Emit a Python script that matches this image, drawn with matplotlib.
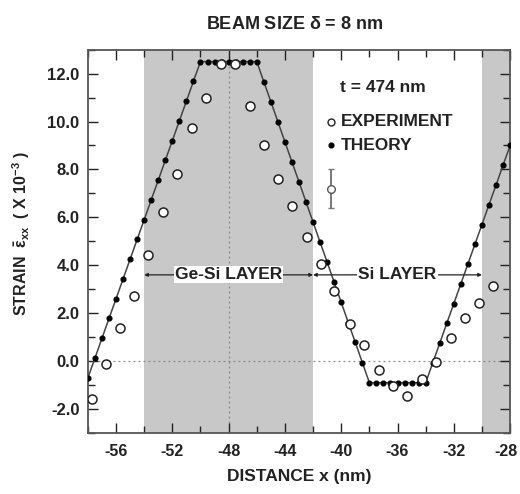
"""Strain profile across Ge-Si / Si layers: experiment vs theory."""

import matplotlib
matplotlib.use("Agg")
import matplotlib.pyplot as plt
from matplotlib.ticker import MultipleLocator
from matplotlib.transforms import ScaledTranslation

plt.rcParams["font.family"] = ["Liberation Sans", "DejaVu Sans"]
plt.rcParams["font.weight"] = "bold"
plt.rcParams["axes.unicode_minus"] = False
plt.rcParams["mathtext.fontset"] = "custom"
plt.rcParams["mathtext.rm"] = "Liberation Sans:bold"
plt.rcParams["mathtext.it"] = "Liberation Sans:bold"

# ── data ────────────────────────────────────────────────────────────────────
exp_x = [-57.7, -56.7, -55.7, -54.7, -53.7, -52.65, -51.65, -50.6, -49.6,
         -48.55, -47.55, -46.5, -45.5, -44.5, -43.5, -42.45, -41.45, -40.5,
         -39.35, -38.35, -37.3, -36.3, -35.3, -34.25, -33.25, -32.2, -31.2,
         -30.2, -29.2]
exp_y = [-1.6, -0.1, 1.4, 2.73, 4.41, 6.24, 7.8, 9.74, 11.0,
         12.39, 12.4, 10.63, 9.02, 7.62, 6.47, 5.2, 4.06, 2.94,
         1.56, 0.67, -0.37, -1.02, -1.45, -0.74, -0.05, 0.95, 1.78,
         2.42, 3.12]

theory_x = [-58.0, -57.5, -57.0, -56.5, -56.0, -55.5, -55.0, -54.5, -54.0,
            -53.5, -53.0, -52.5, -52.0, -51.5, -51.0, -50.5, -50.0, -49.5,
            -49.0, -48.5, -48.0, -47.5, -47.0, -46.5, -46.0, -45.5, -45.0,
            -44.5, -44.0, -43.5, -43.0, -42.5, -42.0, -41.5, -41.0, -40.5,
            -40.0, -39.5, -39.0, -38.5, -38.0, -37.5, -37.0, -36.5, -36.0,
            -35.5, -35.0, -34.5, -34.0, -33.5, -33.0, -32.5, -32.0, -31.5,
            -31.0, -30.5, -30.0, -29.5, -29.0, -28.5, -28.0]
theory_y = [-0.7, 0.12, 0.95, 1.78, 2.6, 3.43, 4.25, 5.08, 5.9,
            6.73, 7.55, 8.38, 9.2, 10.03, 10.85, 11.68, 12.5, 12.5,
            12.5, 12.5, 12.5, 12.5, 12.5, 12.5, 12.5, 11.66, 10.83,
            9.99, 9.15, 8.31, 7.48, 6.64, 5.8, 4.96, 4.13, 3.29,
            2.45, 1.61, 0.78, -0.06, -0.9, -0.9, -0.9, -0.9, -0.9,
            -0.9, -0.9, -0.9, -0.9, -0.08, 0.75, 1.58, 2.4, 3.23,
            4.05, 4.88, 5.7, 6.53, 7.35, 8.18, 9.0]

gesi_span = (-54, -42)
si_span = (-42, -30)
shade_spans = [(-54, -42), (-30, -28)]
errbar_x, errbar_y, errbar_err = -40.7, 7.2, 0.8
xticks = [-56, -52, -48, -44, -40, -36, -32, -28]
yticks = [-2, 0, 2, 4, 6, 8, 10, 12]

GRAY = "#c8c8c8"
INK = "#222222"


def main():
    fig = plt.figure(figsize=(5.2, 4.94), dpi=100)
    ax = fig.add_axes([0.169, 0.1235, 0.812, 0.776])

    for a, b in shade_spans:
        ax.axvspan(a, b, color=GRAY, lw=0, zorder=0)
    ax.axhline(0, color="#888888", ls=(0, (1.5, 2.5)), lw=0.9, zorder=1)
    ax.axvline(-48, color="#888888", ls=(0, (1.5, 2.5)), lw=0.9, zorder=1)

    # theory: line + dots every 0.5 nm
    ax.plot(theory_x, theory_y, color="#444444", lw=1.1, zorder=3)
    ax.plot(theory_x, theory_y, "o", ms=3.4, color="black", zorder=4)
    # experiment: open circles
    ax.plot(exp_x, exp_y, "o", ms=6.5, mfc="white", mec=INK, mew=1.1,
            zorder=5)

    # layer arrows
    arrow = dict(arrowstyle="<|-|>", mutation_scale=5, lw=0.9, color=INK,
                 shrinkA=0, shrinkB=0)
    for (a, b), label in [(gesi_span, "Ge-Si LAYER"), (si_span, "Si LAYER")]:
        ax.annotate("", xy=(a, 3.6), xytext=(b, 3.6), arrowprops=arrow,
                    zorder=6)
        ax.text((a + b) / 2, 3.6, label, ha="center", va="center",
                fontsize=12.5, fontweight="bold", color=INK, zorder=7,
                bbox=dict(facecolor="white", edgecolor="none", pad=0.8))

    # legend block
    ax.text(-40.1, 11.4, "t = 474 nm", fontsize=12.5, fontweight="bold",
            color=INK, va="center")
    ax.plot([-40.73], [10.0], "o", ms=5, mfc="white", mec=INK, mew=1.0)
    ax.text(-40.05, 10.0, "EXPERIMENT", fontsize=12.5, fontweight="bold",
            color=INK, va="center")
    ax.plot([-40.73], [9.02], "o", ms=3.4, color="black")
    ax.text(-40.05, 9.02, "THEORY", fontsize=12.5, fontweight="bold",
            color=INK, va="center")
    ax.errorbar([errbar_x], [errbar_y], yerr=[errbar_err], fmt="o", ms=5.5,
                mfc="white", mec="#555555", mew=1.0, ecolor="#777777",
                elinewidth=1.4, capsize=2, capthick=1.2)

    ax.set_xlim(-58, -28)
    ax.set_ylim(-3, 13)
    ax.xaxis.set_minor_locator(MultipleLocator(2))
    ax.yaxis.set_minor_locator(MultipleLocator(1))
    ax.set_xticks(xticks)
    ax.set_yticks(yticks)
    ax.set_yticklabels([f"{v:.1f}" for v in yticks])
    ax.tick_params(which="both", direction="in", top=True, right=True,
                   colors=INK, width=1.0)
    ax.tick_params(axis="y", labelsize=12)
    ax.tick_params(axis="x", labelsize=11.5)
    ax.tick_params(which="major", length=7)
    ax.tick_params(axis="x", which="major", pad=8)
    ax.tick_params(axis="y", which="major", pad=6)
    ax.tick_params(which="minor", length=5)
    for lbl in ax.get_xticklabels() + ax.get_yticklabels():
        lbl.set_fontweight("bold")
    # last x label sits on the figure edge; nudge it in a few pixels
    last = ax.get_xticklabels()[-1]
    last.set_transform(last.get_transform()
                       + ScaledTranslation(-4 / 100, 0, fig.dpi_scale_trans))
    for s in ax.spines.values():
        s.set_color("#555555")
        s.set_linewidth(1.3)

    ax.set_xlabel("DISTANCE x (nm)", fontsize=12.5, fontweight="bold",
                  color=INK, labelpad=7)
    ax.set_ylabel(r"STRAIN  $\bar{\varepsilon}_{xx}$  ( X 10$^{-3}$ )",
                  fontsize=11.5, fontweight="bold", color=INK)
    ax.yaxis.set_label_coords(-0.132, 0.52)
    fig.text(0.566, 0.951, r"BEAM SIZE $\delta$ = 8 nm", ha="center",
             va="center", fontsize=13, fontweight="bold", color=INK)

    fig.savefig("out.png", dpi=100)


if __name__ == "__main__":
    main()
